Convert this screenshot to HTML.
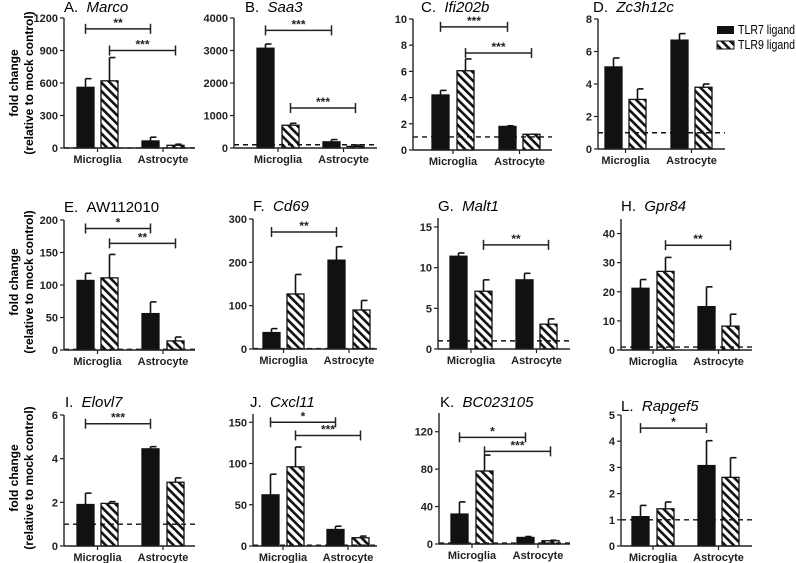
<!DOCTYPE html>
<html><head><meta charset="utf-8"><style>
body{margin:0;background:#fff;width:796px;height:563px;overflow:hidden}
svg{display:block;font-family:"Liberation Sans",Arial,sans-serif}
</style></head><body>
<svg id="fig" width="796" height="563" viewBox="0 0 796 563">
<defs><pattern id="hatch" patternUnits="userSpaceOnUse" width="6" height="6" patternTransform="rotate(-45)">
<rect width="6" height="6" fill="#fff"/><rect x="0" y="0" width="2.6" height="6" fill="#111"/></pattern></defs>
<g><text transform="translate(18,83) rotate(-90)" text-anchor="middle" font-size="12" font-weight="bold">fold change</text><text transform="translate(33,83) rotate(-90)" text-anchor="middle" font-size="12" font-weight="bold">(relative to mock control)</text></g>
<g><text transform="translate(18,282) rotate(-90)" text-anchor="middle" font-size="12" font-weight="bold">fold change</text><text transform="translate(33,282) rotate(-90)" text-anchor="middle" font-size="12" font-weight="bold">(relative to mock control)</text></g>
<g><text transform="translate(18,478) rotate(-90)" text-anchor="middle" font-size="12" font-weight="bold">fold change</text><text transform="translate(33,478) rotate(-90)" text-anchor="middle" font-size="12" font-weight="bold">(relative to mock control)</text></g>
<g>
<rect x="717" y="26" width="17" height="8" fill="#111"/>
<text x="738" y="34" font-size="12.5" textLength="57" lengthAdjust="spacingAndGlyphs">TLR7 ligand</text>
<rect x="717" y="41" width="17" height="8" fill="url(#hatch)" stroke="#111" stroke-width="1"/>
<text x="738" y="49" font-size="12.5" textLength="57" lengthAdjust="spacingAndGlyphs">TLR9 ligand</text>
</g>
</svg>
<script>
const letters=["A.","B.","C.","D.","E.","F.","G.","H.","I.","J.","K.","L."];
const genes=["Marco","Saa3","Ifi202b","Zc3h12c","AW112010","Cd69","Malt1","Gpr84","Elovl7","Cxcl11","BC023105","Rapgef5"];
const categories=["Microglia","Astrocyte"];
const tlr7Values=[[560,65],[3070,190],[4.2,1.8],[5.05,6.7],[107,56],[38,205],[11.4,8.5],[21.2,14.9],[1.9,4.45],[62,20],[32,7],[1.12,3.07]];
const tlr9Values=[[620,25],[700,50],[6.05,1.2],[3.05,3.8],[111,14],[127,90],[7.1,3.05],[27,8.2],[1.95,2.92],[96,10],[78,3.5],[1.42,2.62]];
const tlr7Err=[[640,100],[3200,260],[4.55,1.85],[5.6,7.1],[118,74],[47,236],[11.8,9.3],[24.2,21.7],[2.42,4.55],[87,24],[45,8],[1.55,4.02]];
const tlr9Err=[[835,35],[760,90],[6.95,1.2],[3.7,4.0],[147,20],[172,112],[8.5,3.7],[31.8,12.3],[2.03,3.12],[120,12],[95,4],[1.68,3.37]];
const yTicks=[[0,300,600,900,1200],[0,1000,2000,3000,4000],[0,2,4,6,8,10],[0,2,4,6,8],[0,50,100,150,200],[0,100,200,300],[0,5,10,15],[0,10,20,30,40],[0,2,4,6],[0,50,100,150],[0,40,80,120],[0,1,2,3,4,5]];
const yMax=[1200,4000,10,8,200,300,16.1,45,6,160,140,5];
const baseline=[1,100,1,1,1,1,1,1,1,1,1,1];
// significance: [fromBar, toBar, label, level(value)] bars: 0=mg7,1=mg9,2=as7,3=as9
const sigs=[[[0,2,"**",1100],[1,3,"***",900]],[[0,2,"***",3620],[1,3,"***",1230]],[[0,2,"***",9.4],[1,3,"***",7.4]],[],
[[0,2,"*",187],[1,3,"**",164]],[[0,2,"**",270]],[[1,3,"**",12.8]],[[1,3,"**",36]],
[[0,2,"***",5.6]],[[0,2,"*",150],[1,3,"***",134]],[[0,2,"*",114],[1,3,"***",99]],[[0,2,"*",4.5]]];
// layout (not data)
const L=[
 {ax:64,x1:195,top:18,bot:148,bars:[77,101,142,167],tx:64,ty:12},
 {ax:234,x1:377,top:18,bot:148,bars:[257,282,323,347],tx:245,ty:12},
 {ax:413,x1:552,top:19,bot:150,bars:[432,457,499,523],tx:421,ty:12},
 {ax:598,x1:725,top:19,bot:149,bars:[605,629,671,695],tx:593,ty:12},
 {ax:64,x1:195,top:220,bot:350,bars:[77,101,142,167],tx:64,ty:212},
 {ax:253,x1:377,top:219,bot:349,bars:[263,287,328,353],tx:253,ty:211},
 {ax:438,x1:570,top:218,bot:349,bars:[450,475,516,540],tx:438,ty:211},
 {ax:621,x1:752,top:219,bot:350,bars:[632,657,698,722],tx:621,ty:211},
 {ax:64,x1:195,top:415,bot:546,bars:[77,101,142,167],tx:65,ty:407},
 {ax:253,x1:377,top:414,bot:546,bars:[262,287,327,352],tx:250,ty:407},
 {ax:439,x1:570,top:413,bot:544,bars:[451,476,517,542],tx:440,ty:407},
 {ax:621,x1:752,top:415,bot:546,bars:[632,657,698,722],tx:621,ty:411}];
const BW=17;
const svg=document.getElementById('fig');
const NS='http://www.w3.org/2000/svg';
function mk(tag,attrs,parent){const e=document.createElementNS(NS,tag);for(const k in attrs)e.setAttribute(k,attrs[k]);parent.appendChild(e);return e;}
for(let p=0;p<12;p++){
 const l=L[p];
 const y=v=>l.bot-(v/yMax[p])*(l.bot-l.top);
 const g=mk('g',{},svg);
 
 
 const t=mk('text',{x:l.tx,y:l.ty,'font-size':'15'},g);
 
 
 t.innerHTML=letters[p]+'&#160;&#160;<tspan font-style="'+(p===4?'normal':'italic')+'">'+genes[p]+'</tspan>';
 const vals=[tlr7Values[p][0],tlr9Values[p][0],tlr7Values[p][1],tlr9Values[p][1]];
 const errs=[tlr7Err[p][0],tlr9Err[p][0],tlr7Err[p][1],tlr9Err[p][1]];
 for(let b=0;b<4;b++){
  const bx=l.bars[b],cx=bx+BW/2;
  const ey=y(errs[b]),vy=y(vals[b]);
  const el=mk('line',{x1:cx,x2:cx,y1:vy,y2:ey,stroke:'#111','stroke-width':1.6},g);
  
  
  const cap=mk('line',{x1:cx,x2:cx+6,y1:ey,y2:ey,stroke:'#111','stroke-width':1.6},g);
  
  
  const r=mk('rect',{x:bx,y:vy,width:BW,height:Math.max(0.5,l.bot-vy),fill:b%2?'url(#hatch)':'#111',stroke:'#111','stroke-width':1.3},g);
  
  
 }
 const d=mk('line',{x1:l.ax,x2:l.x1,y1:y(baseline[p]),y2:y(baseline[p]),stroke:'#111','stroke-width':1.4,'stroke-dasharray':'5,4'},g);
 
 
 const ya=mk('line',{x1:l.ax,x2:l.ax,y1:l.top,y2:l.bot,stroke:'#222','stroke-width':1.4},g);
 
 
 const xa=mk('line',{x1:l.ax,x2:l.x1,y1:l.bot,y2:l.bot,stroke:'#222','stroke-width':1.4},g);
 
 
 yTicks[p].forEach(v=>{
  const ty=y(v);
  const tk=mk('line',{x1:l.ax-4,x2:l.ax,y1:ty,y2:ty,stroke:'#222','stroke-width':1.2},g);
  
  
  const tl=mk('text',{x:l.ax-6,y:ty+4,'font-size':'11','font-weight':'bold','text-anchor':'end',fill:'#222'},g);
  
  
  tl.textContent=v;
 });
 for(let c=0;c<2;c++){
  const cx=(l.bars[2*c]+l.bars[2*c+1]+BW)/2;
  const ct=mk('line',{x1:cx,x2:cx,y1:l.bot,y2:l.bot+4,stroke:'#222','stroke-width':1.2},g);
  
  
  const cl=mk('text',{x:cx,y:l.bot+15,'font-size':'11','font-weight':'bold','text-anchor':'middle',fill:'#222'},g);
  
  
  cl.textContent=categories[c];
 }
 sigs[p].forEach(s=>{
  const xa1=l.bars[s[0]]+BW/2,xb=l.bars[s[1]]+BW/2,sy=y(s[3]);
  const sg=mk('g',{},g);
  
  
  mk('line',{x1:xa1,x2:xb,y1:sy,y2:sy,stroke:'#222','stroke-width':1.5},sg);
  mk('line',{x1:xa1,x2:xa1,y1:sy-5,y2:sy+5,stroke:'#222','stroke-width':1.5},sg);
  mk('line',{x1:xb,x2:xb,y1:sy-5,y2:sy+5,stroke:'#222','stroke-width':1.5},sg);
  const st=mk('text',{x:(xa1+xb)/2,y:sy-2,'font-size':'12','font-weight':'bold','text-anchor':'middle',fill:'#222'},sg);
  st.textContent=s[2];
 });
}
</script>
</body></html>
